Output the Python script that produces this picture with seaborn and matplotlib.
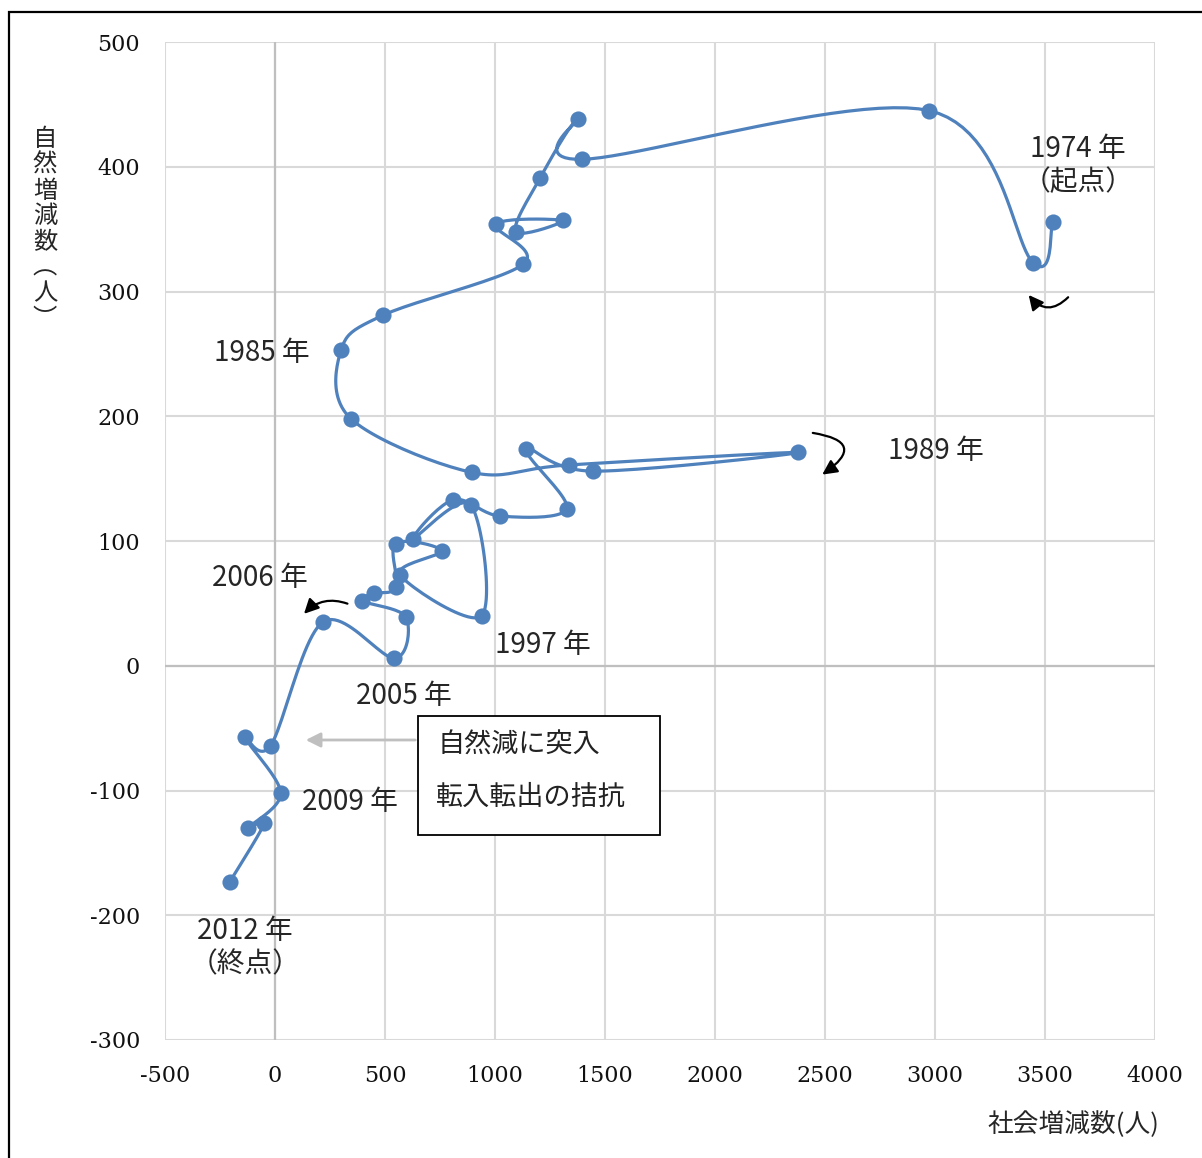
import numpy as np
import pandas as pd
import matplotlib
matplotlib.use("Agg")
import matplotlib.pyplot as plt
from matplotlib.patches import Rectangle
import seaborn as sns

# 年ごとの 社会増減数 (x) と 自然増減数 (y)
years = list(range(1974, 2013))
social = [3535, 3447, 2974, 1397, 1376, 1205, 1094, 1311, 1005, 1129,
          491, 300, 345, 895, 1338, 2379, 1444, 1141, 1326, 1023,
          810, 629, 889, 939, 568, 757, 548, 550, 450, 397,
          595, 543, 217, -20, -136, 26, -121, -48, -205]
natural = [356, 323, 445, 406, 438, 391, 348, 357, 354, 322,
           281, 253, 198, 155, 161, 171, 156, 174, 126, 120,
           133, 102, 129, 40, 73, 92, 98, 63, 58, 52,
           39, 6, 35, -64, -57, -102, -130, -126, -173]

xticks = [-500, 0, 500, 1000, 1500, 2000, 2500, 3000, 3500, 4000]
yticks = [-300, -200, -100, 0, 100, 200, 300, 400, 500]

year_labels = {
    "1974 年\n（起点）": (3650, 401),
    "1985 年": (-59, 251),
    "1989 年": (3005, 172),
    "2006 年": (-68, 70),
    "1997 年": (1218, 17),
    "2005 年": (586, -24),
    "2009 年": (341, -109),
    "2012 年\n（終点）": (-136, -226),
}

LINE_BLUE = "#4f81bd"


def smooth_path(xs, ys, n=24):
    # Excel-style smoothed line (Bezier through each point)
    p = np.column_stack([xs, ys]).astype(float)
    ext = np.vstack([p[0], p, p[-1]])
    t = np.linspace(0, 1, n)[:, None]
    parts = []
    for i in range(len(p) - 1):
        p0, p1, p2, p3 = ext[i], ext[i + 1], ext[i + 2], ext[i + 3]
        c1 = p1 + (p2 - p0) / 6
        c2 = p2 - (p3 - p1) / 6
        seg = (1 - t) ** 3 * p1 + 3 * (1 - t) ** 2 * t * c1 + 3 * (1 - t) * t ** 2 * c2 + t ** 3 * p2
        parts.append(seg if i == 0 else seg[1:])
    return np.vstack(parts)


df = pd.DataFrame({"year": years, "social": social, "natural": natural})
curve = smooth_path(df["social"], df["natural"])
curve_df = pd.DataFrame(curve, columns=["social", "natural"])

sns.set_theme(style="white")
plt.rcParams["font.family"] = ["Noto Sans CJK JP", "DejaVu Sans"]
plt.rcParams["axes.unicode_minus"] = False

fig = plt.figure(figsize=(12.02, 11.58), dpi=100)
ax = fig.add_axes([0.1373, 0.1019, 0.8236, 0.8618])

sns.lineplot(data=curve_df, x="social", y="natural", sort=False, estimator=None,
             color=LINE_BLUE, linewidth=2.3, ax=ax, zorder=3)
sns.scatterplot(data=df, x="social", y="natural", color=LINE_BLUE, s=135,
                edgecolor=LINE_BLUE, linewidth=0, ax=ax, zorder=4)

ax.set_xlim(-500, 4000)
ax.set_ylim(-300, 500)
ax.set_xticks(xticks)
ax.set_yticks(yticks)
ax.set_xticklabels([str(v) for v in xticks], fontfamily="DejaVu Serif", fontsize=16)
ax.set_yticklabels([str(v) for v in yticks], fontfamily="DejaVu Serif", fontsize=16)
ax.tick_params(axis="both", length=0, pad=18, colors="#111111")
ax.grid(True, color="#d9d9d9", linewidth=1.5)
ax.set_axisbelow(True)
for s in ax.spines.values():
    s.set_visible(False)
ax.axvline(0, color="#bfbfbf", linewidth=1.6, zorder=1)
ax.axhline(0, color="#bfbfbf", linewidth=1.6, zorder=1)
ax.set_xlabel("")
ax.set_ylabel("")

# axis titles
fig.text(1073 / 1202, 1 - 1125 / 1158, "社会増減数(人)", fontsize=18.5, ha="center", va="center")
fig.text(45 / 1202, 1 - 229 / 1158, "\n".join("自然増減数︵人︶"), fontsize=17.5,
         ha="center", va="center", linespacing=0.98)

# year labels
for txt, (lx, ly) in year_labels.items():
    ax.text(lx, ly, txt, fontsize=20, ha="center", va="center", linespacing=1.15, zorder=6)

# direction arrows
arrow_kw = dict(arrowstyle="-|>", color="black", lw=1.6, mutation_scale=22)
ax.annotate("", xy=(3418, 299), xytext=(3614, 297),
            arrowprops=dict(connectionstyle="arc3,rad=-0.6", **arrow_kw))
ax.annotate("", xy=(2477, 152), xytext=(2432, 187),
            arrowprops=dict(connectionstyle="arc3,rad=-1.3", **arrow_kw))
ax.annotate("", xy=(123, 40), xytext=(341, 49),
            arrowprops=dict(connectionstyle="arc3,rad=0.35", **arrow_kw))

# note box
ax.add_patch(Rectangle((650, -135.7), 1100, 95.4, facecolor="white",
                       edgecolor="black", linewidth=1.3, zorder=5))
ax.text(741, -64, "自然減に突入", fontsize=19.5, ha="left", va="center", zorder=6, color="#222222")
ax.text(732, -105.5, "転入転出の拮抗", fontsize=19.5, ha="left", va="center", zorder=6, color="#222222")
ax.annotate("", xy=(127, -59.5), xytext=(650, -59.5),
            arrowprops=dict(arrowstyle="-|>", color="#bfbfbf", lw=2, mutation_scale=22))

# outer chart frame (cut at right/bottom)
fig.patches.append(Rectangle((9 / 1202, -0.1), 1.2, 1.1 - 12 / 1158,
                             transform=fig.transFigure, fill=False,
                             edgecolor="black", linewidth=1.6))

fig.savefig("out.png", dpi=100)
